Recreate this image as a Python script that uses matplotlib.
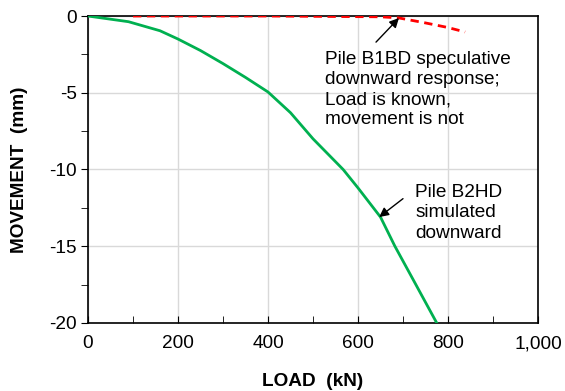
import matplotlib
matplotlib.use("Agg")
import matplotlib.pyplot as plt
import numpy as np

matplotlib.rcParams["font.family"] = ["Liberation Sans", "DejaVu Sans"]
matplotlib.rcParams["axes.unicode_minus"] = False

# simulated downward response, pile B2HD
b2hd_load = [0, 90, 160, 200, 250, 300, 350, 400, 450, 500, 567, 600, 650, 682, 723, 775]
b2hd_move = [0, -0.37, -0.96, -1.5, -2.25, -3.1, -4.0, -4.95, -6.3, -8.0, -10.0, -11.2, -13.1, -15.0, -17.2, -20.0]

# speculative downward response, pile B1BD
b1bd_load = [100, 400, 650, 690, 750, 800, 838]
b1bd_move = [0, 0, -0.05, -0.12, -0.45, -0.75, -1.04]

fig = plt.figure(figsize=(5.65, 3.91), dpi=100)
ax = fig.add_axes([0.1558, 0.174, 0.7964, 0.785])

ax.plot(b2hd_load, b2hd_move, color="#00B050", linewidth=2, zorder=3)
ax.plot(b1bd_load, b1bd_move, color="#FF0000", linewidth=2, linestyle=(0, (3, 2)), zorder=3)

ax.set_xlim(0, 1000)
ax.set_ylim(-20, 0)
ax.set_xticks(np.arange(0, 1001, 200))
ax.set_xticks(np.arange(0, 1001, 100), minor=True)
ax.set_yticks(np.arange(-20, 1, 5))
ax.set_yticks(np.arange(-20, 1, 2.5), minor=True)
ax.set_xticklabels(["0", "200", "400", "600", "800", "1,000"])
ax.tick_params(axis="x", which="both", direction="in", length=5, labelsize=13.7, pad=9)
ax.tick_params(axis="y", which="both", direction="out", length=5, labelsize=13.7, pad=3)
ax.grid(True, which="major", color="#d9d9d9", linewidth=1)
ax.set_axisbelow(True)
for s in ax.spines.values():
    s.set_linewidth(1.2)

ax.set_xlabel("LOAD  (kN)", fontsize=13.7, fontweight="bold", labelpad=15)
ax.set_ylabel("MOVEMENT  (mm)", fontsize=13.7, fontweight="bold", labelpad=15)

ax.annotate("", xy=(691, -0.13), xytext=(640, -1.7),
            arrowprops=dict(arrowstyle="-|>", color="black", lw=1, mutation_scale=14,
                            shrinkA=0, shrinkB=0))
ax.text(527, -2.25, "Pile B1BD speculative\ndownward response;\nLoad is known,\nmovement is not",
        fontsize=13.7, linespacing=1.25, va="top", ha="left")
ax.annotate("", xy=(647, -13.1), xytext=(700, -11.9),
            arrowprops=dict(arrowstyle="-|>", color="black", lw=1, mutation_scale=14,
                            shrinkA=0, shrinkB=0))
ax.text(727, -10.95, "Pile B2HD\nsimulated\ndownward", fontsize=13.7, linespacing=1.25,
        va="top", ha="left")

fig.savefig("out.png", dpi=100)
